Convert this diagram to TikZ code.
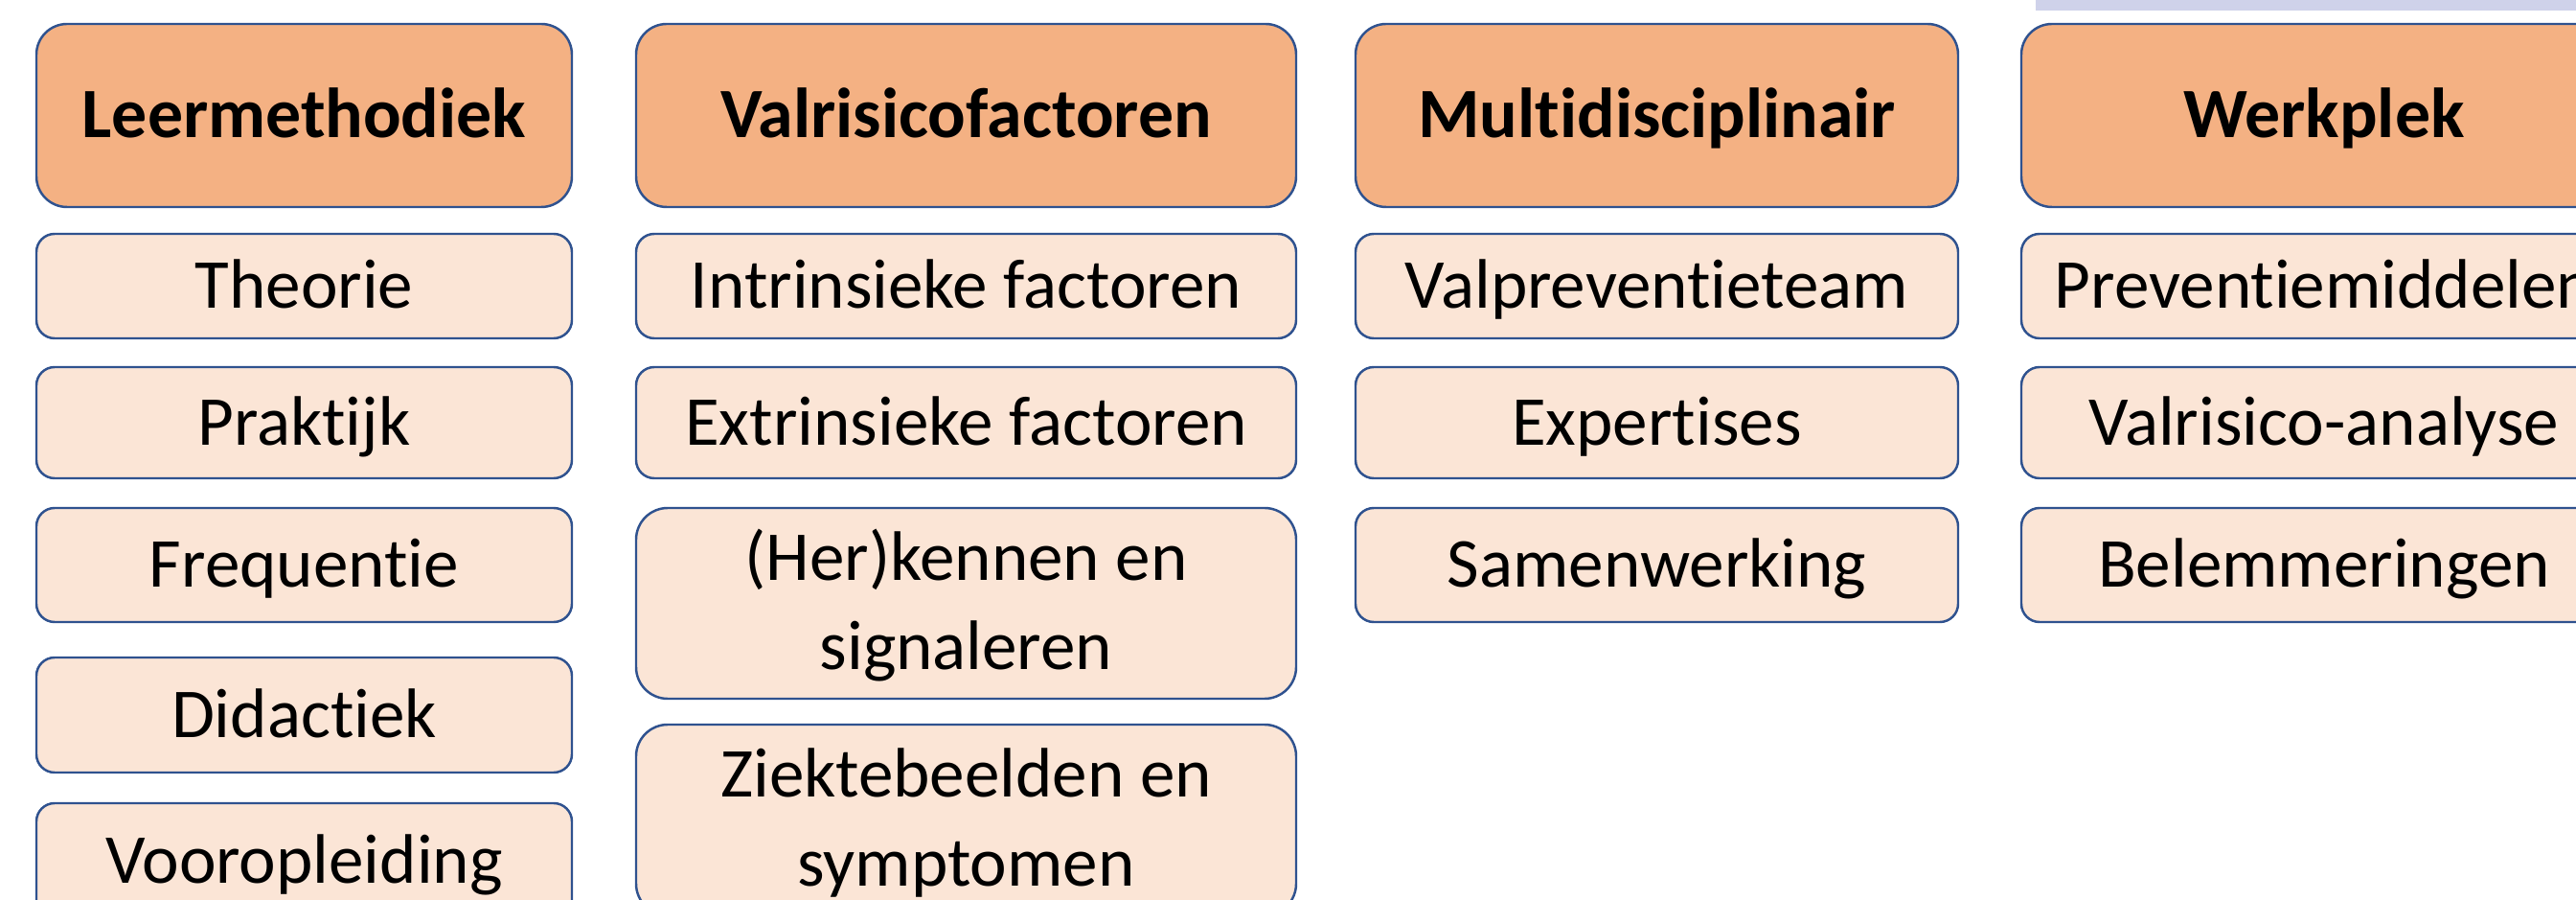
\documentclass[tikz,border=0pt]{standalone}
\usepackage{fontspec}
\setmainfont{Carlito}[Ligatures=NoCommon]
\usepackage{tikz}
\usetikzlibrary{arrows, shapes, positioning}

\definecolor{kopkleur}{HTML}{F4B183}
\definecolor{itemkleur}{HTML}{FBE5D6}
\definecolor{randkleur}{HTML}{2F528F}
\definecolor{balkkleur}{RGB}{207,210,234}

\tikzset{
  kop/.style={draw=randkleur, fill=kopkleur, line width=0.7pt, rounded corners=0.32cm,
    minimum width=#1, minimum height=1.91cm, inner sep=0pt,
    font=\fontsize{21}{24.4}\selectfont\bfseries, text height=13.3pt, text depth=0pt},
  item/.style={draw=randkleur, fill=itemkleur, line width=0.7pt, rounded corners=0.19cm,
    minimum width=#1, inner sep=0pt,
    font=\fontsize{20.8}{24.4}\selectfont, text height=13.1pt, text depth=0pt},
  item2/.style={item=#1, rounded corners=0.33cm, minimum height=1.99cm, align=center,
    font=\fontsize{20.8}{26.4}\selectfont, text height=39.1pt}
}

\begin{document}
\begin{tikzpicture}
      \useasboundingbox (0,0) rectangle (26.89,-9.39);
      \fill[balkkleur] (21.25,0) rectangle (26.89,-0.107);

	     % kopjes %
      \node[kop=5.59cm] at (3.175,-1.205) (lm) {Leermethodiek};
      \node[kop=6.89cm, right of = lm, node distance=6.91cm] (vr) {Valrisicofactoren};
      \node[kop=6.29cm, right of = vr, node distance=7.21cm] (md) {Multidisciplinair};
      \node[kop=6.32cm, right of = md, node distance=6.965cm] (wp) {Werkplek};

      % Leermethodiek %
      \node[item=5.59cm, minimum height=1.09cm, below of = lm, node distance=1.78cm] (lm1) {Theorie};
      \node[item=5.59cm, minimum height=1.16cm, below of = lm1, node distance=1.425cm] (lm2) {Praktijk};
      \node[item=5.59cm, minimum height=1.19cm, below of = lm2, node distance=1.485cm] (lm3) {Frequentie};
      \node[item=5.59cm, minimum height=1.20cm, below of = lm3, node distance=1.565cm] (lm4) {Didactiek};
      \node[item=5.59cm, minimum height=1.20cm, below of = lm4, node distance=1.52cm] (lm5) {Vooropleiding};

      % Valrisicofactoren %
      \node[item=6.89cm, minimum height=1.09cm, below of = vr, node distance=1.78cm] (vr1) {Intrinsieke factoren};
      \node[item=6.89cm, minimum height=1.16cm, below of = vr1, node distance=1.425cm] (vr2) {Extrinsieke factoren};
      \node[item2=6.89cm, below of = vr2, node distance=1.885cm] (vr3) {(Her)kennen en\\ signaleren};
      \node[item2=6.89cm, below of = vr3, node distance=2.26cm] (vr4) {Ziektebeelden en\\ symptomen};

      % Multidisciplinair %
      \node[item=6.29cm, minimum height=1.09cm, below of = md, node distance=1.78cm] (md1) {Valpreventieteam};
      \node[item=6.29cm, minimum height=1.16cm, below of = md1, node distance=1.425cm] (md2) {Expertises};
      \node[item=6.29cm, minimum height=1.19cm, below of = md2, node distance=1.485cm] (md3) {Samenwerking};

      % Werkplek %
      \node[item=6.32cm, minimum height=1.09cm, below of = wp, node distance=1.78cm] (wp1) {Preventiemiddelen};
      \node[item=6.32cm, minimum height=1.16cm, below of = wp1, node distance=1.425cm] (wp2) {Valrisico-analyse};
      \node[item=6.32cm, minimum height=1.19cm, below of = wp2, node distance=1.485cm] (wp3) {Belemmeringen};
        \end{tikzpicture}
\end{document}
